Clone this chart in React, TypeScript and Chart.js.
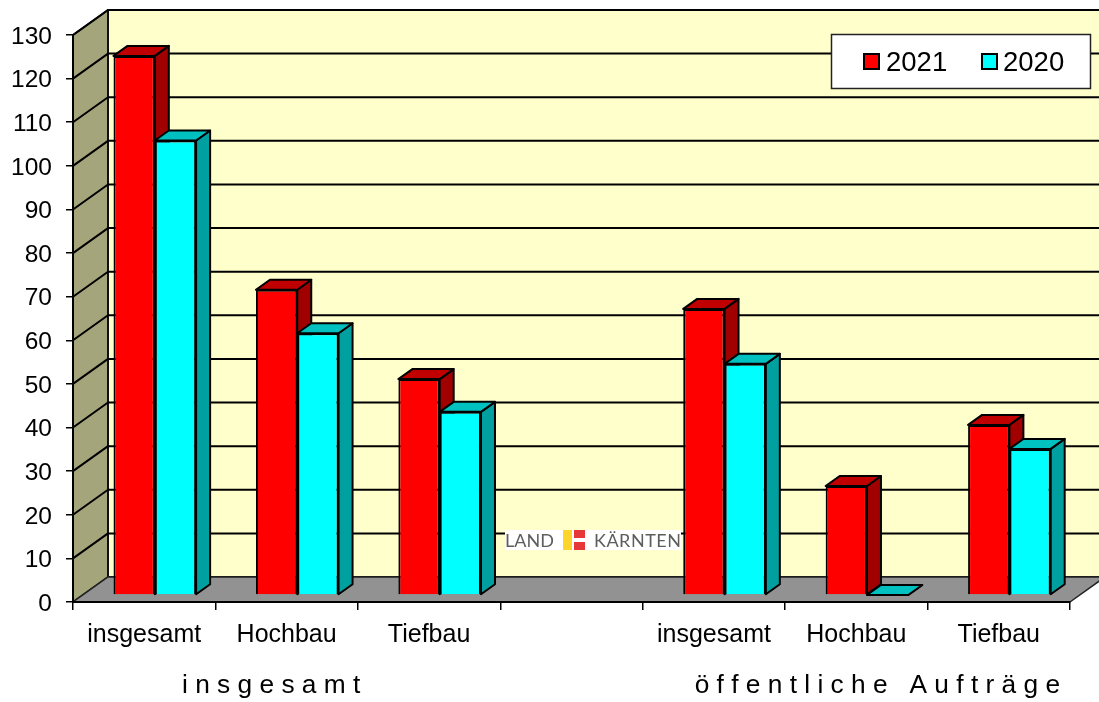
import React, { useEffect, useRef } from "react";
import { Chart, registerables } from "chart.js";

Chart.register(...registerables);

const categories = ["insgesamt", "Hochbau", "Tiefbau", "", "insgesamt", "Hochbau", "Tiefbau"];
const values2021 = [123.6, 70, 49.5, null, 65.6, 25, 39];
const values2020 = [104.2, 60, 42, null, 53, 0, 33.5];
const seriesNames = ["2021", "2020"];
const groupLabels = [
  { text: "i n s g e s a m t", cat: 1 },
  { text: "ö f f e n t l i c h e   A u f t r ä g e", cat: 5 },
];
const yTickStep = 10;
const yMax = 130;

const FONT = '"Liberation Sans", Arial, sans-serif';
const WALL = { dx: 35, dy: -25 };
const BAR_SHIFT = { dx: 10.6, dy: -7 };
const BAR_DEPTH = { dx: 14, dy: -10 };
const colors = [
  { front: "#FF0000", top: "#C00000", side: "#A00000" },
  { front: "#00FFFF", top: "#00C0C0", side: "#00A0A0" },
];

function poly(ctx: CanvasRenderingContext2D, pts: number[][], fill: string | null, stroke: string | null, lw = 2) {
  ctx.beginPath();
  pts.forEach((p, i) => (i ? ctx.lineTo(p[0], p[1]) : ctx.moveTo(p[0], p[1])));
  ctx.closePath();
  if (fill) {
    ctx.fillStyle = fill;
    ctx.fill();
  }
  if (stroke) {
    ctx.strokeStyle = stroke;
    ctx.lineWidth = lw;
    ctx.lineJoin = "round";
    ctx.stroke();
  }
}

const scene3d = {
  id: "scene3d",
  beforeDraw(chart: any) {
    const { ctx, chartArea: a, scales } = chart;
    const y = scales.y;
    const L = a.left, R = a.right, T = a.top, B = a.bottom;
    ctx.save();
    poly(ctx, [[L + WALL.dx, T + WALL.dy], [R + WALL.dx, T + WALL.dy], [R + WALL.dx, B + WALL.dy], [L + WALL.dx, B + WALL.dy]], "#FFFFCC", "#111", 2);
    poly(ctx, [[L, T], [L + WALL.dx, T + WALL.dy], [L + WALL.dx, B + WALL.dy], [L, B]], "#A5A57B", "#111", 2);
    poly(ctx, [[L, B], [L + WALL.dx, B + WALL.dy], [R + WALL.dx, B + WALL.dy], [R, B]], "#929292", "#222", 1.5);
    ctx.strokeStyle = "#000";
    ctx.lineWidth = 2;
    for (let v = yTickStep; v <= yMax; v += yTickStep) {
      const py = y.getPixelForValue(v);
      ctx.beginPath();
      ctx.moveTo(L, py);
      ctx.lineTo(L + WALL.dx, py + WALL.dy);
      ctx.lineTo(R + WALL.dx, py + WALL.dy);
      ctx.stroke();
    }
    ctx.restore();
  },
  beforeDatasetsDraw(chart: any) {
    const { ctx } = chart;
    ctx.save();
    chart.data.datasets.forEach((_: any, di: number) => {
      const c = colors[di];
      chart.getDatasetMeta(di).data.forEach((bar: any, i: number) => {
        if (chart.data.datasets[di].data[i] == null) return;
        const x0 = bar.x - bar.width / 2 + BAR_SHIFT.dx;
        const x1 = bar.x + bar.width / 2 + BAR_SHIFT.dx;
        const yt = bar.y + BAR_SHIFT.dy;
        const yb = bar.base + BAR_SHIFT.dy;
        const d = BAR_DEPTH;
        poly(ctx, [[x1, yt], [x1 + d.dx, yt + d.dy], [x1 + d.dx, yb + d.dy], [x1, yb]], c.side, "#000", 2);
        poly(ctx, [[x0, yt], [x0 + d.dx, yt + d.dy], [x1 + d.dx, yt + d.dy], [x1, yt]], c.top, "#000", 2);
      });
    });
    ctx.restore();
    ctx.save();
    ctx.translate(BAR_SHIFT.dx, BAR_SHIFT.dy);
  },
  afterDatasetsDraw(chart: any) {
    chart.ctx.restore();
  },
  afterDraw(chart: any) {
    const { ctx, scales } = chart;
    ctx.save();
    // second-level axis labels
    ctx.fillStyle = "#000";
    ctx.font = `26.3px ${FONT}`;
    ctx.textAlign = "center";
    ctx.textBaseline = "middle";
    groupLabels.forEach((g) => {
      ctx.fillText(g.text, scales.x.getPixelForValue(g.cat) + (g.cat === 5 ? 21 : -15.5), 686);
    });
    // watermark
    ctx.fillStyle = "#FFFFFF";
    ctx.fillRect(505, 530, 176, 20);
    ctx.fillStyle = "#5E5E5E";
    ctx.font = `18px Lato, ${FONT}`;
    ctx.textAlign = "left";
    ctx.fillText("LAND", 505, 541);
    (ctx as any).letterSpacing = "0.5px";
    ctx.fillText("KÄRNTEN", 594, 541);
    (ctx as any).letterSpacing = "0px";
    ctx.fillStyle = "#FFD52B";
    ctx.fillRect(563, 530, 9, 20);
    ctx.fillStyle = "#E63838";
    ctx.fillRect(574, 530, 11, 8);
    ctx.fillRect(574, 542, 11, 8);
    // legend
    ctx.fillStyle = "#FFFFFF";
    ctx.strokeStyle = "#222";
    ctx.lineWidth = 1.5;
    ctx.fillRect(831.5, 34.5, 259, 54);
    ctx.strokeRect(831.5, 34.5, 259, 54);
    const swatchX = [864, 982];
    const textX = [886, 1003];
    chart.data.datasets.forEach((ds: any, i: number) => {
      ctx.fillStyle = colors[i].front;
      ctx.strokeStyle = "#000";
      ctx.lineWidth = 2;
      ctx.fillRect(swatchX[i], 54, 15, 15);
      ctx.strokeRect(swatchX[i], 54, 15, 15);
      ctx.fillStyle = "#000";
      ctx.font = `27.5px ${FONT}`;
      ctx.textAlign = "left";
      ctx.fillText(ds.label, textX[i], 63);
    });
    ctx.restore();
  },
};

export default function App() {
  const ref = useRef<HTMLCanvasElement>(null);
  useEffect(() => {
    document.body.style.margin = "0";
    const barOpts = { borderColor: "#000", borderWidth: 2, clip: false as any, categoryPercentage: 0.58, barPercentage: 1 };
    const chart = new Chart(ref.current as HTMLCanvasElement, {
      type: "bar",
      data: {
        labels: categories,
        datasets: [
          { label: seriesNames[0], data: values2021, backgroundColor: colors[0].front, ...barOpts },
          { label: seriesNames[1], data: values2020, backgroundColor: colors[1].front, ...barOpts },
        ],
      },
      options: {
        responsive: false,
        animation: false,
        layout: { padding: { top: 35, right: 29, left: 0, bottom: 0 } },
        plugins: { legend: { display: false }, tooltip: { enabled: false } },
        scales: {
          x: {
            afterFit: (s: any) => { s.height = 100; },
            grid: { offset: true, drawOnChartArea: false, drawTicks: true, tickLength: 8, color: "#000", lineWidth: 1.5 },
            border: { display: true, color: "#000", width: 2 },
            ticks: { color: "#000", font: { family: FONT, size: 25 }, padding: 10, maxRotation: 0, autoSkip: false },
          } as any,
          y: {
            min: 0,
            max: yMax,
            afterFit: (s: any) => { s.width = 73; },
            grid: { drawOnChartArea: false, drawTicks: true, tickLength: 7, color: "#000", lineWidth: 1.5 },
            border: { display: true, color: "#000", width: 2 },
            ticks: { stepSize: yTickStep, color: "#000", font: { family: FONT, size: 24.5 }, padding: 14, labelOffset: 2 },
          } as any,
        },
      },
      plugins: [scene3d as any],
    });
    return () => chart.destroy();
  }, []);
  return <canvas ref={ref} width={1099} height={702} style={{ display: "block", width: 1099, height: 702 }} />;
}
